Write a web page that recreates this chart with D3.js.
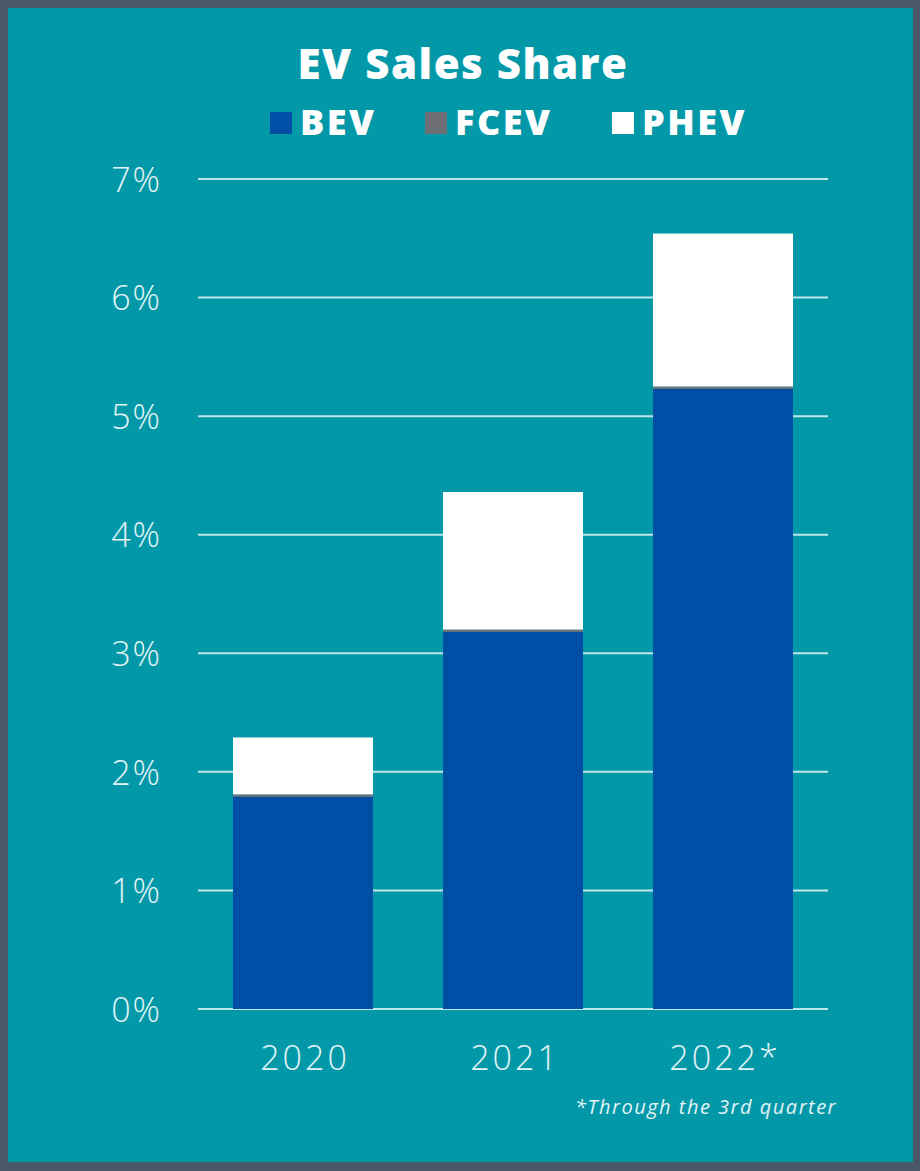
<!DOCTYPE html>
<html>
<head>
<meta charset="utf-8">
<script src="https://cdn.jsdelivr.net/npm/d3@7"></script>
<style>
  html, body { margin: 0; padding: 0; background: #4a586a; }
  svg { display: block; }
</style>
</head>
<body>
<svg id="chart" width="920" height="1171"></svg>
<script>
// data
var years = ["2020", "2021", "2022*"];
var bev   = [1.79, 3.18, 5.23];
var fcev  = [0.02, 0.02, 0.02];
var phev  = [0.48, 1.16, 1.29];
var seriesNames = ["BEV", "FCEV", "PHEV"];
var seriesColors = ["#004ea6", "#6d6f74", "#ffffff"];
var yTicks = [0, 1, 2, 3, 4, 5, 6, 7];

var svg = d3.select("#chart");
var font = "'Open Sans', 'Noto Sans', sans-serif";

// teal panel inside the dark frame
svg.append("rect")
    .attr("x", 8).attr("y", 8)
    .attr("width", 905).attr("height", 1154)
    .style("fill", "#0298a8");

var x = d3.scaleBand().domain(years).range([198, 828]).paddingInner(1 / 3).paddingOuter(1 / 6);
var y = d3.scaleLinear().domain([0, 7]).range([1009, 179]);

// gridlines
svg.append("g").selectAll("line").data(yTicks).enter().append("line")
    .attr("x1", 198).attr("x2", 828)
    .attr("y1", function(d) { return y(d); })
    .attr("y2", function(d) { return y(d); })
    .style("stroke", "#bfe6eb")
    .style("stroke-width", 2);

// y axis labels
var yAxis = d3.axisLeft(y).tickValues(yTicks).tickSize(0).tickPadding(0)
    .tickFormat(function(d) { return d + "%"; });
var yg = svg.append("g").attr("transform", "translate(162,0)").call(yAxis);
yg.select(".domain").remove();
yg.selectAll("text")
    .attr("dy", "0.36em")
    .style("font-family", font)
    .style("font-size", "34px")
    .style("font-weight", 300)
    .style("letter-spacing", "2px")
    .style("fill", "#e3f4f6");

// stacked bars
var rows = years.map(function(yr, i) {
    return {year: yr, BEV: bev[i], FCEV: fcev[i], PHEV: phev[i]};
});
var stack = d3.stack().keys(seriesNames)(rows);

svg.append("g").selectAll("g").data(stack).enter().append("g")
    .style("fill", function(d, i) { return seriesColors[i]; })
  .selectAll("rect").data(function(d) { return d; }).enter().append("rect")
    .attr("x", function(d) { return x(d.data.year); })
    .attr("width", x.bandwidth())
    .attr("y", function(d) { return y(d[1]); })
    .attr("height", function(d) { return y(d[0]) - y(d[1]); });

// x axis labels
var xAxis = d3.axisBottom(x).tickSize(0).tickPadding(0);
var xg = svg.append("g").attr("transform", "translate(2,1070)").call(xAxis);
xg.select(".domain").remove();
xg.selectAll("text")
    .attr("dy", "0")
    .attr("y", 0)
    .style("font-family", font)
    .style("font-size", "34px")
    .style("font-weight", 300)
    .style("letter-spacing", "3px")
    .style("fill", "#e3f4f6");

// title
svg.append("text")
    .attr("x", 463).attr("y", 79)
    .attr("text-anchor", "middle")
    .style("font-family", font)
    .style("font-size", "42px")
    .style("font-weight", 800)
    .style("letter-spacing", "1.5px")
    .style("fill", "#ffffff")
    .text("EV Sales Share");

// legend
var legendX = [270, 425, 612];
var lg = svg.append("g").selectAll("g").data(seriesNames).enter().append("g")
    .attr("transform", function(d, i) { return "translate(" + legendX[i] + ",112)"; });
lg.append("rect")
    .attr("width", 22).attr("height", 22)
    .style("fill", function(d, i) { return seriesColors[i]; });
lg.append("text")
    .attr("x", 30).attr("y", 23)
    .style("font-family", font)
    .style("font-size", "36px")
    .style("font-weight", 800)
    .style("letter-spacing", "2.5px")
    .style("fill", "#ffffff")
    .text(function(d) { return d; });

// footnote
svg.append("text")
    .attr("x", 837).attr("y", 1114)
    .attr("text-anchor", "end")
    .style("font-family", font)
    .style("font-size", "20px")
    .style("font-style", "italic")
    .style("letter-spacing", "1.5px")
    .style("fill", "#e3f4f6")
    .text("*Through the 3rd quarter");
</script>
</body>
</html>
